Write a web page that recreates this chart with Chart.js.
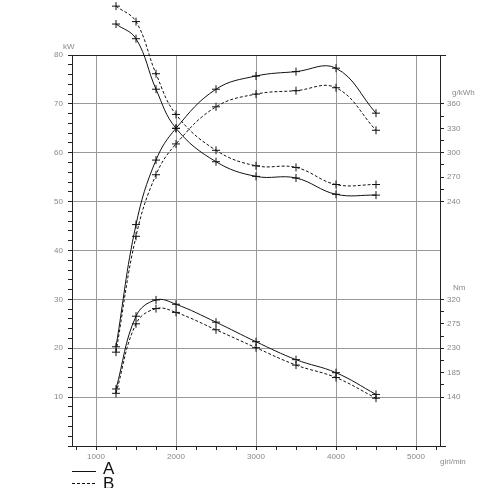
<!DOCTYPE html>
<html>
<head>
<meta charset="utf-8">
<script src="https://cdn.jsdelivr.net/npm/chart.js@4/dist/chart.umd.min.js"></script>
<style>
  html, body { margin: 0; background: #fff; }
  canvas { display: block; }
</style>
</head>
<body>
<canvas id="c" width="488" height="488"></canvas>
<script>
// regimi motore (giri/min)
const rpm = [1250, 1500, 1750, 2000, 2500, 3000, 3500, 4000, 4500];

// potenza kW
const powerA = [20.3, 45.3, 58.5, 65.0, 73.0, 75.7, 76.6, 77.3, 68.1];
const powerB = [19.2, 42.9, 55.5, 61.8, 69.4, 72.0, 72.7, 73.3, 64.6];

// consumo specifico g/kWh
const sfcA = [458, 440, 378, 330, 289, 271, 269, 249, 248];
const sfcB = [480, 461, 397, 347, 303, 284, 282, 261, 261];

// coppia Nm
const torqueA = [155, 289, 319, 311, 278, 242, 209, 185, 145];
const torqueB = [147, 275, 303, 296, 264, 231, 199, 176, 138];

const seriesNames = ['A', 'B'];

// etichette assi
const powerTicks = [10, 20, 30, 40, 50, 60, 70, 80];
const rpmTicks = [1000, 2000, 3000, 4000, 5000];
const sfcTicks = [240, 270, 300, 330, 360];
const torqueTicks = [140, 185, 230, 275, 320];

const FONT = '"Liberation Sans", Arial, sans-serif';
const GRID = '#9a9a9a';
const AXIS = '#222';
const LABEL = '#888';

// scale nascoste allineate alla scala kW (0..80)
const sfcMin = -60, sfcMax = 420;   // 240 g/kWh = 50 kW, 360 = 70
const nmMin = 50, nmMax = 770;      // 140 Nm = 10 kW, 320 = 30
const sfcToKw = (v) => (v - sfcMin) / (sfcMax - sfcMin) * 80;
const nmToKw = (v) => (v - nmMin) / (nmMax - nmMin) * 80;

const lineStyle = (data, axis, dashed) => ({
  data: rpm.map((x, i) => ({ x, y: data[i] })),
  yAxisID: axis,
  borderColor: '#111',
  borderWidth: 1,
  borderDash: dashed ? [3, 2] : [],
  pointStyle: 'cross',
  pointRadius: 4,
  pointBorderWidth: 1,
  pointBorderColor: '#111',
  tension: 0.4,
  fill: false,
  clip: false,
});

const extras = {
  id: 'extras',
  // Chart.js salta i punti fuori dall'area: le croci sopra il bordo le disegniamo qui
  afterDatasetsDraw(chart) {
    const { ctx, chartArea: a } = chart;
    ctx.save();
    ctx.strokeStyle = '#111';
    ctx.lineWidth = 1;
    chart.data.datasets.forEach((ds, i) => {
      chart.getDatasetMeta(i).data.forEach((p) => {
        if (p.y >= a.top - 1) return;
        const r = ds.pointRadius;
        ctx.beginPath();
        ctx.moveTo(p.x - r, p.y);
        ctx.lineTo(p.x + r, p.y);
        ctx.moveTo(p.x, p.y - r);
        ctx.lineTo(p.x, p.y + r);
        ctx.stroke();
      });
    });
    ctx.restore();
  },
  afterDraw(chart) {
    const { ctx, chartArea: a, scales } = chart;
    ctx.save();
    // prolunghe assi oltre l'asse destro
    ctx.strokeStyle = AXIS;
    ctx.lineWidth = 1;
    ctx.beginPath();
    ctx.moveTo(a.right, Math.round(a.top) + 0.5);
    ctx.lineTo(a.right + 6, Math.round(a.top) + 0.5);
    ctx.moveTo(a.right, Math.round(a.bottom) + 0.5);
    ctx.lineTo(a.right + 6, Math.round(a.bottom) + 0.5);
    ctx.stroke();

    // titoli assi
    ctx.fillStyle = LABEL;
    ctx.font = '8px ' + FONT;
    ctx.textBaseline = 'middle';
    ctx.textAlign = 'left';
    ctx.fillText('kW', a.left - 9, a.top - 8);
    ctx.fillText('g/kWh', a.right + 12, scales.ySfc.getPixelForValue(sfcTicks[sfcTicks.length - 1]) - 11);
    ctx.fillText('Nm', a.right + 13, scales.yNm.getPixelForValue(torqueTicks[torqueTicks.length - 1]) - 12);
    ctx.fillText('giri/min', a.right, a.bottom + 16);

    // legenda
    const lx = a.left;
    ctx.strokeStyle = '#111';
    ctx.beginPath();
    ctx.moveTo(lx, 471.5);
    ctx.lineTo(lx + 24, 471.5);
    ctx.stroke();
    ctx.setLineDash([3, 2]);
    ctx.beginPath();
    ctx.moveTo(lx, 483.5);
    ctx.lineTo(lx + 24, 483.5);
    ctx.stroke();
    ctx.setLineDash([]);
    ctx.fillStyle = '#111';
    ctx.font = '17px ' + FONT;
    ctx.textBaseline = 'alphabetic';
    ctx.fillText(seriesNames[0], lx + 31, 474);
    ctx.fillText(seriesNames[1], lx + 31, 489);
    ctx.restore();
  },
};

new Chart(document.getElementById('c'), {
  type: 'line',
  data: {
    datasets: [
      lineStyle(powerA, 'y', false),
      lineStyle(powerB, 'y', true),
      lineStyle(sfcA, 'ySfc', false),
      lineStyle(sfcB, 'ySfc', true),
      lineStyle(torqueA, 'yNm', false),
      lineStyle(torqueB, 'yNm', true),
    ],
  },
  options: {
    responsive: false,
    animation: false,
    layout: { padding: { top: 55, left: 0, right: 0, bottom: 0 } },
    elements: { line: { capBezierPoints: false } },
    plugins: { legend: { display: false }, tooltip: { enabled: false } },
    scales: {
      x: {
        type: 'linear',
        min: 700,
        max: 5300,
        afterBuildTicks: (s) => {
          const t = [];
          for (let v = rpmTicks[0] - 250; v <= rpmTicks[rpmTicks.length - 1] + 250; v += 250) t.push({ value: v });
          s.ticks = t;
        },
        afterFit: (s) => { s.height = 42; },
        border: { color: AXIS },
        grid: {
          color: (c) => (c.tick && rpmTicks.includes(c.tick.value) ? GRID : 'rgba(0,0,0,0)'),
          tickColor: AXIS,
          tickLength: 4,
        },
        ticks: {
          autoSkip: false,
          maxRotation: 0,
          padding: 2,
          color: LABEL,
          font: { family: FONT, size: 8 },
          callback: (v) => (rpmTicks.includes(v) ? String(v) : ''),
        },
      },
      y: {
        min: 0,
        max: 80,
        afterFit: (s) => { s.width = 72; },
        border: { color: AXIS },
        grid: {
          color: (c) => {
            if (!c.tick) return 'rgba(0,0,0,0)';
            if (c.tick.value === 80) return AXIS;
            return powerTicks.includes(c.tick.value) ? GRID : 'rgba(0,0,0,0)';
          },
          tickColor: AXIS,
          tickLength: 4,
        },
        ticks: {
          stepSize: 2,
          autoSkip: false,
          padding: 5,
          color: LABEL,
          font: { family: FONT, size: 8 },
          callback: (v) => (powerTicks.includes(v) ? String(v) : ''),
        },
      },
      ySfc: { display: false, min: sfcMin, max: sfcMax },
      yNm: { display: false, min: nmMin, max: nmMax },
      yR: {
        position: 'right',
        min: 0,
        max: 80,
        afterBuildTicks: (s) => {
          const t = [];
          const add = (vals, conv) => vals.forEach((v, i) => {
            t.push({ value: conv(v), lbl: String(v) });
            if (i < vals.length - 1) t.push({ value: conv((v + vals[i + 1]) / 2), lbl: '' });
          });
          add(torqueTicks, nmToKw);
          add(sfcTicks, sfcToKw);
          s.ticks = t;
        },
        afterFit: (s) => { s.width = 48; },
        border: { color: AXIS },
        grid: { drawOnChartArea: false, tickColor: AXIS, tickLength: 4 },
        ticks: {
          autoSkip: false,
          padding: 3,
          color: LABEL,
          font: { family: FONT, size: 8 },
          callback: (v, i, ticks) => ticks[i].lbl,
        },
      },
    },
  },
  plugins: [extras],
});
</script>
</body>
</html>
